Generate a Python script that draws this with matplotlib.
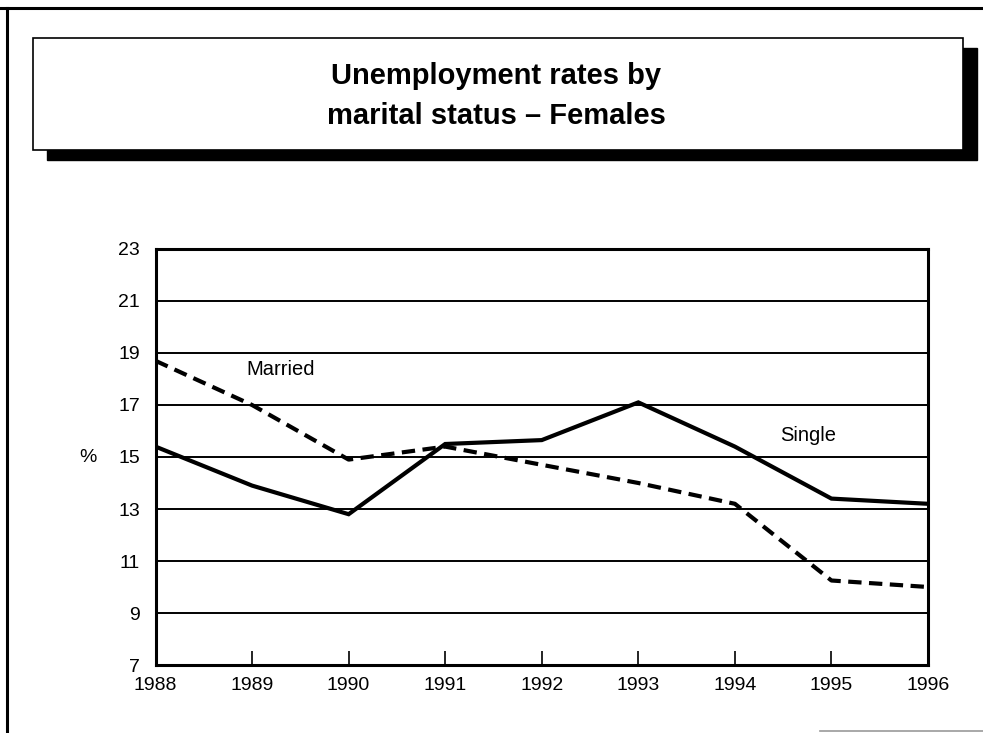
import matplotlib.pyplot as plt
from matplotlib.patches import Rectangle
from matplotlib.lines import Line2D

plt.rcParams['font.family'] = ['Liberation Sans', 'DejaVu Sans']

years = [1988, 1989, 1990, 1991, 1992, 1993, 1994, 1995, 1996]
single = [15.4, 13.9, 12.8, 15.5, 15.65, 17.1, 15.4, 13.4, 13.2]
married = [18.7, 17.0, 14.9, 15.4, 14.7, 14.0, 13.2, 10.25, 10.0]
y_ticks = [7, 9, 11, 13, 15, 17, 19, 21, 23]

W, H = 983, 733
fig = plt.figure(figsize=(W / 100, H / 100), dpi=100)

# page frame: top rule, left rule, faint bottom-right stub
fig.add_artist(Line2D([0, 1], [1 - 8 / H, 1 - 8 / H], color='black', lw=2.2))
fig.add_artist(Line2D([7 / W, 7 / W], [0, 1 - 8 / H], color='black', lw=2.2))
fig.add_artist(Line2D([820 / W, 1], [1 - 731 / H, 1 - 731 / H], color='#999999', lw=1.2))

# title box with drop shadow
bx0, bx1, by0, by1 = 33, 963, 38, 150
fig.add_artist(Rectangle(((bx0 + 14) / W, 1 - (by1 + 10) / H), (bx1 - bx0) / W,
                         (by1 - by0) / H, transform=fig.transFigure,
                         facecolor='black', edgecolor='black', zorder=1))
fig.add_artist(Rectangle((bx0 / W, 1 - by1 / H), (bx1 - bx0) / W, (by1 - by0) / H,
                         transform=fig.transFigure, facecolor='white',
                         edgecolor='black', lw=1.2, zorder=2))
fig.text(496 / W, 1 - 76 / H, 'Unemployment rates by', ha='center', va='center',
         fontsize=21, fontweight='bold', zorder=3)
fig.text(496 / W, 1 - 116 / H, 'marital status \u2013 Females', ha='center',
         va='center', fontsize=21, fontweight='bold', zorder=3)

ax_l, ax_r, ax_t, ax_b = 155.5, 928, 249, 665
ax = fig.add_axes([ax_l / W, 1 - ax_b / H, (ax_r - ax_l) / W, (ax_b - ax_t) / H])

for y in y_ticks[1:-1]:
    ax.axhline(y, color='black', lw=1.4, zorder=1)

ax.plot(years, single, color='black', lw=3.0, solid_joinstyle='miter', zorder=3)
ax.plot(years, married, color='black', lw=3.0, linestyle=(0, (3.2, 1.8)), zorder=3)

ax.set_xlim(1988, 1996)
ax.set_ylim(7, 23)
ax.set_yticks(y_ticks)
ax.set_xticks(years)
ax.tick_params(axis='y', length=0, pad=11, labelsize=14)
ax.tick_params(axis='x', direction='in', length=10, width=1.2, pad=9, labelsize=14)
for spine in ax.spines.values():
    spine.set_linewidth(2.2)

ax.text(1989.3, 18.35, 'Married', ha='center', va='center', fontsize=14.5)
ax.text(1994.76, 15.84, 'Single', ha='center', va='center', fontsize=14.5)
fig.text(88 / W, 1 - 457 / H, '%', ha='center', va='center', fontsize=14)

fig.savefig('out.png', dpi=100)
